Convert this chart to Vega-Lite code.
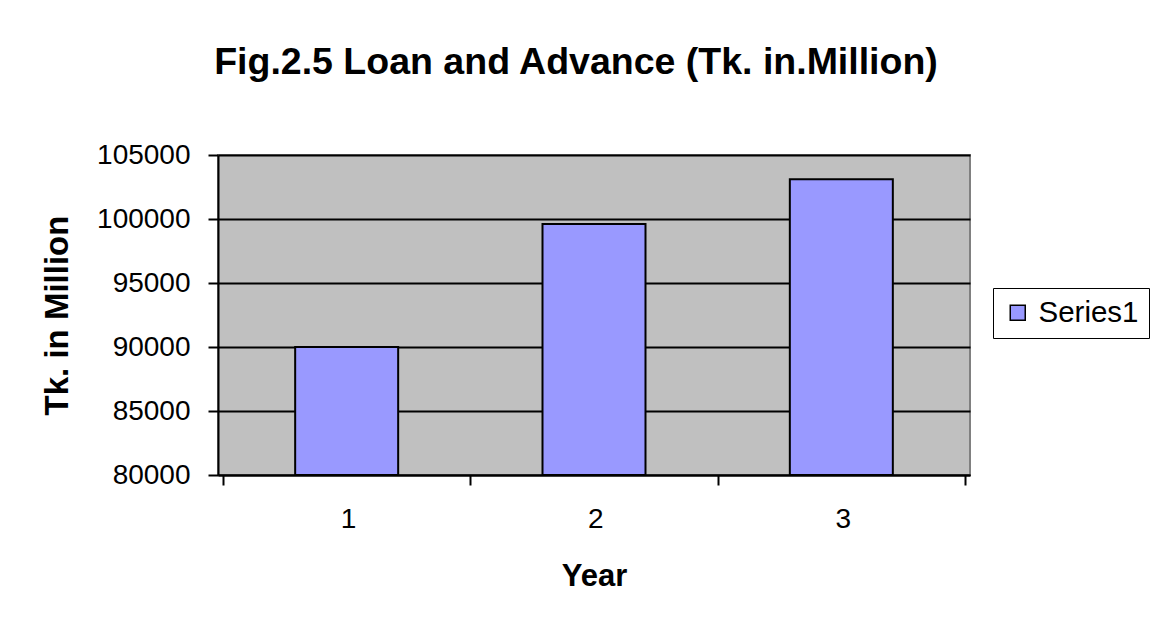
{
  "$schema": "https://vega.github.io/schema/vega-lite/v6.json",
  "autosize": {"type": "none"},
  "width": 752,
  "height": 320,
  "padding": {"left": 218, "top": 155, "right": 182, "bottom": 149},
  "background": "white",
  "title": {
    "text": "Fig.2.5 Loan and Advance (Tk. in.Million)",
    "font": "Liberation Sans",
    "fontSize": 37.5,
    "fontWeight": "bold",
    "color": "black",
    "anchor": "middle",
    "dx": -18,
    "offset": 60
  },
  "data": {
    "values": [
      {"year": 1, "value": 90000, "series": "Series1"},
      {"year": 2, "value": 99600, "series": "Series1"},
      {"year": 3, "value": 103100, "series": "Series1"}
    ]
  },
  "mark": {"type": "bar", "size": 103, "stroke": "black", "strokeWidth": 2},
  "encoding": {
    "x": {
      "field": "year",
      "type": "quantitative",
      "scale": {"domain": [0.5, 3.5], "nice": false, "zero": false},
      "axis": {
        "values": [0.5, 1.5, 2.5, 3.5],
        "labelExpr": "datum.value > 3 ? '' : format(datum.value + 0.5, 'd')",
        "labelOffset": 125,
        "labelFlush": false,
        "labelOverlap": false,
        "labelBound": false,
        "grid": false,
        "domainColor": "black",
        "domainWidth": 2,
        "tickColor": "black",
        "tickWidth": 2,
        "tickSize": 10,
        "labelFont": "Liberation Sans",
        "labelFontSize": 28,
        "labelColor": "black",
        "labelPadding": 20,
        "title": "Year",
        "titleFont": "Liberation Sans",
        "titleFontSize": 31,
        "titleFontWeight": "bold",
        "titleColor": "black",
        "titlePadding": 28
      }
    },
    "y": {
      "field": "value",
      "type": "quantitative",
      "scale": {"domain": [80000, 105000], "nice": false, "zero": false},
      "axis": {
        "values": [80000, 85000, 90000, 95000, 100000, 105000],
        "format": "d",
        "grid": true,
        "gridColor": "black",
        "gridWidth": 2,
        "domainColor": "black",
        "domainWidth": 2,
        "tickColor": "black",
        "tickWidth": 2,
        "tickSize": 10,
        "labelFont": "Liberation Sans",
        "labelFontSize": 28,
        "labelColor": "black",
        "labelPadding": 18,
        "title": "Tk. in Million",
        "titleFont": "Liberation Sans",
        "titleFontSize": 33,
        "titleFontWeight": "bold",
        "titleColor": "black",
        "titlePadding": 22
      }
    },
    "y2": {"datum": 80000},
    "color": {
      "field": "series",
      "type": "nominal",
      "scale": {"range": ["#9999FF"]},
      "legend": {
        "title": null,
        "orient": "none",
        "legendX": 775,
        "legendY": 133,
        "strokeColor": "black",
        "fillColor": "white",
        "padding": 10,
        "symbolType": "square",
        "symbolSize": 225,
        "symbolStrokeColor": "black",
        "symbolStrokeWidth": 1.5,
        "symbolOpacity": 1,
        "labelFont": "Liberation Sans",
        "labelFontSize": 29.5,
        "labelColor": "black",
        "labelOffset": 6
      }
    }
  },
  "config": {
    "view": {"fill": "#C0C0C0", "stroke": "#808080", "strokeWidth": 2}
  }
}
